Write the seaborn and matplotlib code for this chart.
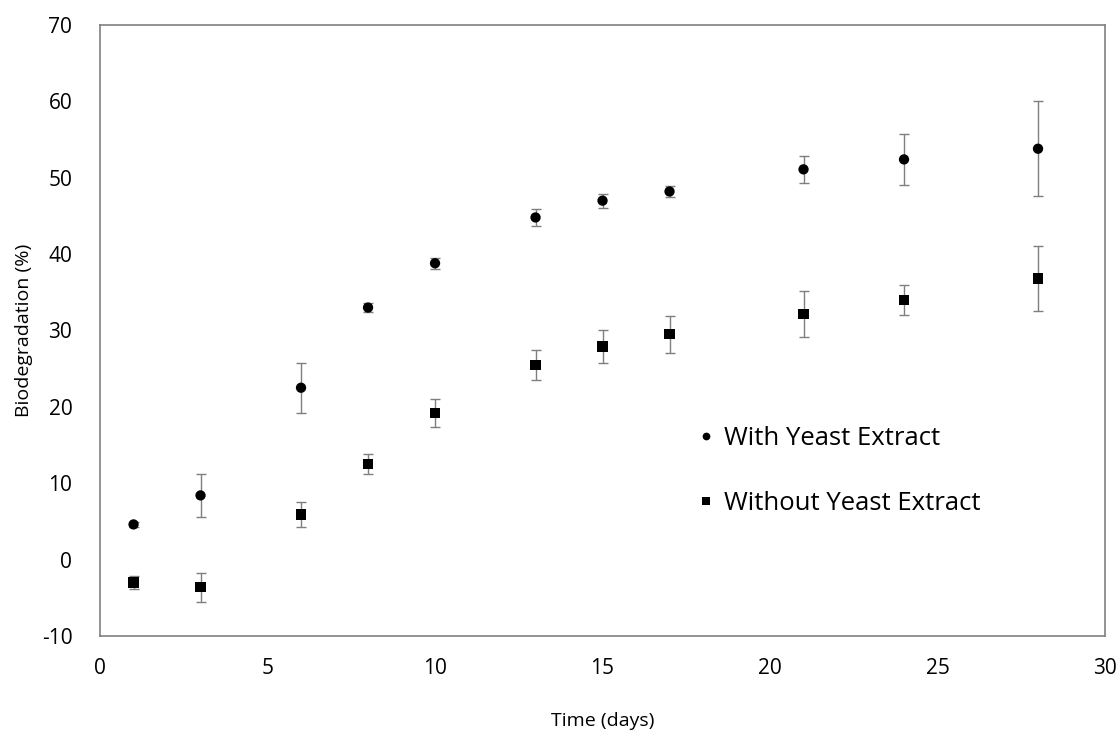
import numpy as np
import pandas as pd
import matplotlib
matplotlib.use("Agg")
import matplotlib.pyplot as plt
import seaborn as sns

# Sampling days
days = [1, 3, 6, 8, 10, 13, 15, 17, 21, 24, 28]

# Biodegradation (%) with yeast extract and its error
with_yeast = [4.6, 8.4, 22.5, 33.0, 38.8, 44.8, 47.0, 48.2, 51.1, 52.4, 53.8]
with_yeast_err = [0.3, 2.8, 3.3, 0.6, 0.7, 1.1, 0.9, 0.7, 1.8, 3.3, 6.2]

# Biodegradation (%) without yeast extract and its error
without_yeast = [-3.0, -3.6, 5.9, 12.5, 19.2, 25.5, 27.9, 29.5, 32.2, 34.0, 36.8]
without_yeast_err = [0.8, 1.9, 1.7, 1.3, 1.8, 2.0, 2.1, 2.4, 3.0, 2.0, 4.2]

series_names = ["With Yeast Extract", "Without Yeast Extract"]

sns.set_style("white")
plt.rcParams["font.family"] = ["Open Sans", "DejaVu Sans"]
plt.rcParams["axes.unicode_minus"] = False
plt.rcParams["text.color"] = "black"
plt.rcParams["axes.labelcolor"] = "black"

df = pd.DataFrame({
    "Time": days * 2,
    "Biodegradation": with_yeast + without_yeast,
    "Err": with_yeast_err + without_yeast_err,
    "Series": [series_names[0]] * len(days) + [series_names[1]] * len(days),
})

fig = plt.figure(figsize=(11.19, 7.36), dpi=100)
ax = fig.add_axes([0.0894, 0.136, 0.8981, 0.830])

# Error bars first, so the markers sit on top
for name in series_names:
    sub = df[df["Series"] == name]
    ax.errorbar(sub["Time"], sub["Biodegradation"], yerr=sub["Err"], fmt="none",
                ecolor="#7f7f7f", elinewidth=1.0, capsize=3.5, capthick=1.0, zorder=2)

sns.scatterplot(data=df, x="Time", y="Biodegradation", style="Series",
                markers={series_names[0]: "o", series_names[1]: "s"},
                color="black", s=55, edgecolor="black", linewidth=0, ax=ax, zorder=3)

ax.set_xlim(0, 30)
ax.set_ylim(-10, 70)
ax.set_xticks(range(0, 31, 5))
ax.set_yticks(range(-10, 71, 10))
ax.tick_params(axis="both", length=0, labelsize=15, colors="black")
ax.tick_params(axis="x", pad=16)
ax.tick_params(axis="y", pad=20)
ax.set_xlabel("Time (days)", fontsize=14, labelpad=24)
ax.set_ylabel("Biodegradation (%)", fontsize=14, labelpad=6)

for sp in ax.spines.values():
    sp.set_color("#808080")
    sp.set_linewidth(1.2)

leg = ax.legend(loc="upper left", bbox_to_anchor=(0.570, 0.381), frameon=False,
                fontsize=18.5, labelspacing=1.55, handlelength=0.8,
                handletextpad=0.3, markerscale=0.75)
for t in leg.get_texts():
    t.set_color("black")

fig.savefig("out.png", dpi=100)
